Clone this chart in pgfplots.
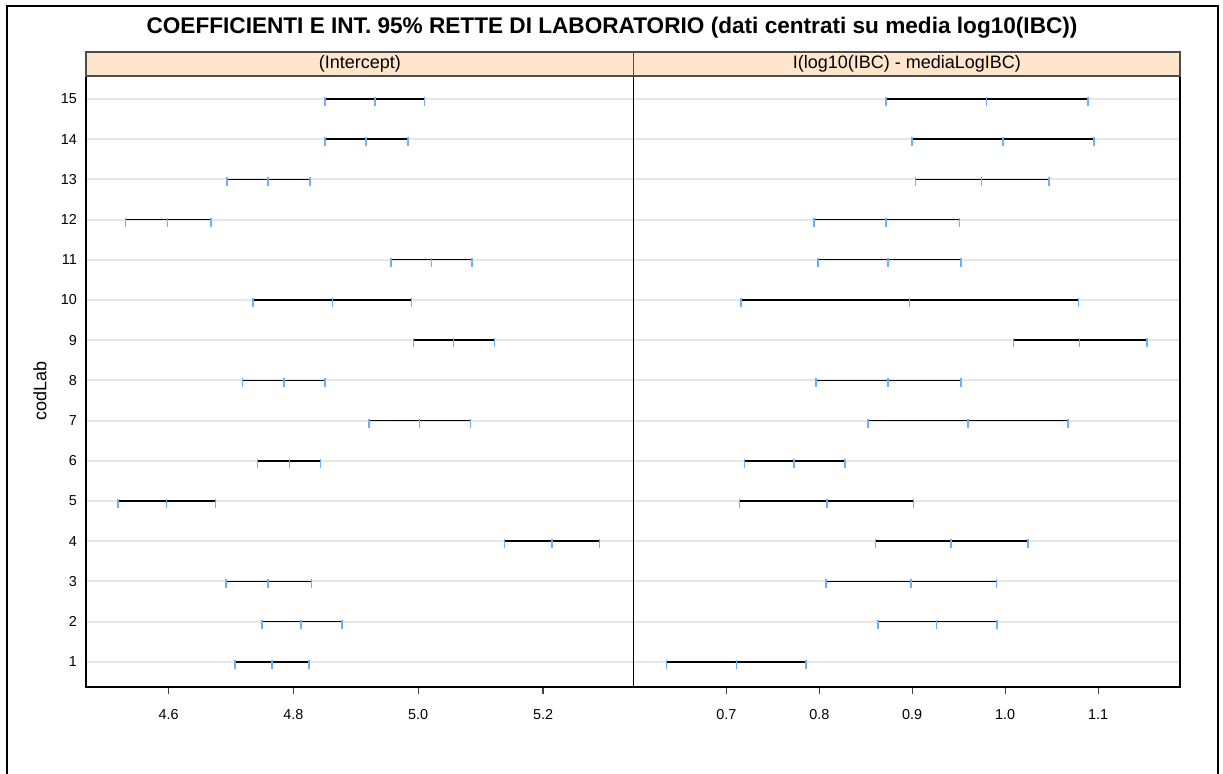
\documentclass[border=0pt]{standalone}
\usepackage{fontspec}
\setmainfont{Liberation Sans}
\usepackage{pgfplots}
\usepackage{pgfplotstable}
\pgfplotsset{compat=1.18}
\definecolor{tickblue}{RGB}{110,175,250}
\definecolor{stripbg}{RGB}{255,229,204}
\definecolor{gridgray}{RGB}{230,230,230}

\pgfplotstableread{
lab lo mid hi
1 4.7064 4.7654 4.8245
2 4.7500 4.8124 4.8778
3 4.6915 4.7592 4.8291
4 5.1385 5.2141 5.2903
5 4.5185 4.5964 4.6749
6 4.7425 4.7935 4.8434
7 4.9207 5.0021 5.0840
8 4.7185 4.7844 4.8508
9 4.9924 5.0566 5.1219
10 4.7351 4.8623 4.9895
11 4.9568 5.0210 5.0858
12 4.5305 4.5981 4.6675
13 4.6938 4.7592 4.8262
14 4.8503 4.9167 4.9832
15 4.8503 4.9305 5.0102
}\intercept

\pgfplotstableread{
lab lo mid hi
1 0.6358 0.7108 0.7857
2 0.8629 0.9263 0.9912
3 0.8072 0.8986 0.9905
4 0.8606 0.9417 1.0243
5 0.7142 0.8080 0.9013
6 0.7196 0.7726 0.8276
7 0.8525 0.9597 1.0677
8 0.7968 0.8740 0.9524
9 1.0089 1.0800 1.1526
10 0.7158 0.8971 1.0788
11 0.7984 0.8740 0.9524
12 0.7945 0.8717 0.9509
13 0.9036 0.9747 1.0469
14 0.8998 0.9978 1.0953
15 0.8717 0.9797 1.0892
}\slope

\pgfplotsset{
  panel/.style={
    scale only axis,
    anchor=south west,
    height=305.35pt,
    ymin=0.38, ymax=15.57,
    ytick={1,...,15},
    ymajorgrids,
    major grid style={color=gridgray, line width=1pt},
    y tick style={draw=none},
    xtick pos=bottom,
    tick align=outside,
    major tick length=3.5pt,
    x tick style={color=black!75, line width=0.6pt},
    axis line style={line width=0.8pt},
    ticklabel style={font=\fontsize{7.2}{8}\selectfont},
    /pgf/number format/assume math mode=true,
    xticklabel style={/pgf/number format/fixed, /pgf/number format/fixed zerofill, /pgf/number format/precision=1, yshift=-4.5pt},
    clip=false,
  },
  ci/.style={
    only marks, mark=|, mark size=2.25pt,
    mark options={color=tickblue, line width=0.8pt, yshift=-1.25pt},
    error bars/.cd, x dir=both, x explicit, error mark=none,
    error bar style={black, line width=0.75pt},
  },
  endmark/.style={
    only marks, mark=|, mark size=2.25pt,
    mark options={color=tickblue, line width=0.8pt, yshift=-1.25pt},
  },
}

\begin{document}
\begin{tikzpicture}
\useasboundingbox[fill=white] (0,0) rectangle (611.5pt,386.5pt);
% outer frame (bottom edge lies below the picture)
\draw[line width=1pt] (3.5pt,-2pt) -- (3.5pt,383.5pt) -- (608.75pt,383.5pt) -- (608.75pt,-2pt);

\begin{axis}[panel,
  at={(43pt,43.15pt)}, width=273.75pt,
  xmin=4.4675, xmax=5.345,
  xtick={4.6,4.8,5.0,5.2},
  ytick pos=left,
  yticklabel style={xshift=2.5pt},
]
\addplot[ci] table[x=mid, y=lab,
  x error plus expr=\thisrow{hi}-\thisrow{mid},
  x error minus expr=\thisrow{mid}-\thisrow{lo}] {\intercept};
\addplot[endmark] table[x=lo, y=lab] {\intercept};
\addplot[endmark] table[x=hi, y=lab] {\intercept};
\end{axis}

\begin{axis}[panel,
  at={(316.75pt,43.15pt)}, width=273.25pt,
  xmin=0.6002, xmax=1.188,
  xtick={0.7,0.8,0.9,1.0,1.1},
  yticklabels={},
]
\addplot[ci] table[x=mid, y=lab,
  x error plus expr=\thisrow{hi}-\thisrow{mid},
  x error minus expr=\thisrow{mid}-\thisrow{lo}] {\slope};
\addplot[endmark] table[x=lo, y=lab] {\slope};
\addplot[endmark] table[x=hi, y=lab] {\slope};
\end{axis}

% strips
\draw[fill=stripbg, draw=black!70, line width=0.8pt] (43pt,348.5pt) rectangle (590pt,360.5pt);
\draw[black!70, line width=0.8pt] (316.75pt,348.5pt) -- (316.75pt,360.5pt);
\node[font=\fontsize{9}{10}\selectfont, inner sep=0pt] at (179.9pt,354.5pt) {(Intercept)};
\node[font=\fontsize{9}{10}\selectfont, inner sep=0pt] at (453.4pt,354.5pt) {I(log10(IBC) - mediaLogIBC)};

% title
\node[font=\bfseries\fontsize{11.3}{13}\selectfont, inner sep=0pt] at (306pt,372.5pt)
  {COEFFICIENTI E INT. 95\% RETTE DI LABORATORIO (dati centrati su media log10(IBC))};

% y label
\node[rotate=90, font=\fontsize{9}{10}\selectfont, inner sep=0pt] at (20pt,191pt) {codLab};
\end{tikzpicture}
\end{document}
